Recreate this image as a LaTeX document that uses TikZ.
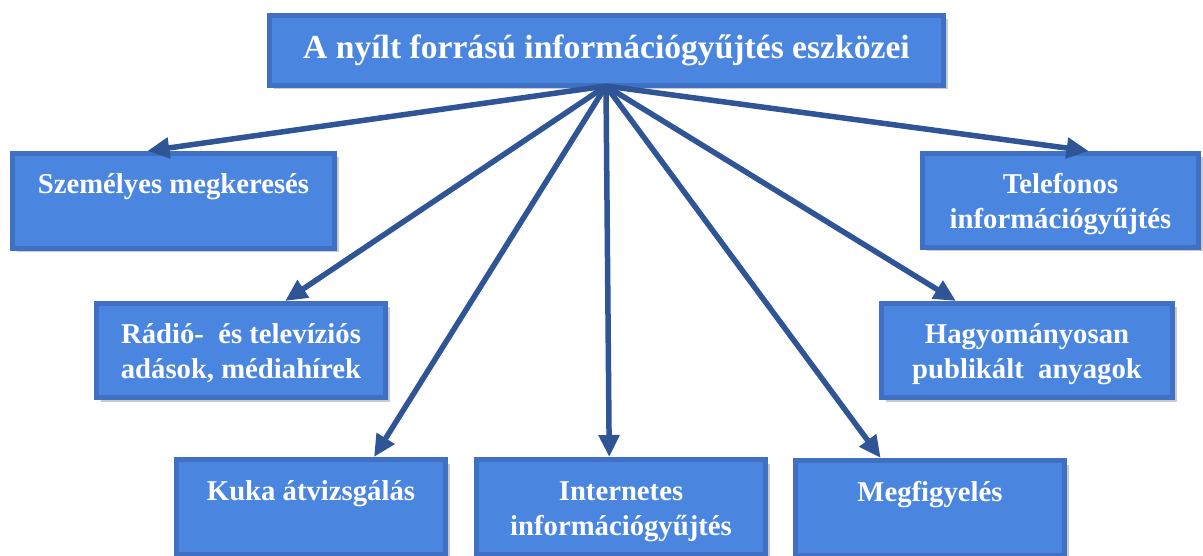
\documentclass[tikz,border=0pt]{standalone}
\usepackage{fontspec}
\setmainfont{Liberation Serif}
\usetikzlibrary{arrows.meta,shadows,calc}
\definecolor{boxfill}{RGB}{74,134,224}
\definecolor{boxline}{RGB}{64,112,196}
\definecolor{arrowcol}{RGB}{47,85,151}
\newcommand\histrut{\rule{0pt}{31.5pt}}
\newcommand\lostrut{\rule[-10.5pt]{0pt}{10.5pt}}
\begin{document}
\begin{tikzpicture}[x=1pt,y=-1pt,
  box/.style={draw=boxline, line width=5pt, fill=boxfill, inner sep=0pt, text=white,
    font=\fontsize{28.7}{35}\selectfont\bfseries, align=center,
    drop shadow={shadow xshift=4pt, shadow yshift=-4pt, fill=black!35, opacity=0.6}},
  conn/.style={draw=arrowcol, line width=5.5pt, -{Triangle[length=22pt,width=20pt]}}]
\useasboundingbox (0,0) rectangle (1203,556);
\node[box, minimum width=674pt, minimum height=70pt, font=\fontsize{33.6}{38}\selectfont\bfseries] (top) at (606.5,50.5) {A nyílt forrású információgyűjtés eszközei};
\node[box, minimum width=322pt, minimum height=95pt] (szem) at (173.5,201) {\histrut Személyes megkeresés\\\lostrut};
\node[box, minimum width=276pt, minimum height=94pt] (tel) at (1060.5,200.5) {\histrut Telefonos\\\lostrut információgyűjtés};
\node[box, minimum width=289pt, minimum height=94pt] (radio) at (241,350.5) {\histrut Rádió-\ \ és televíziós\\\lostrut adások, médiahírek};
\node[box, minimum width=291pt, minimum height=94pt] (hagy) at (1027,350.5) {\histrut Hagyományosan\\\lostrut publikált\ \ anyagok};
\node[box, minimum width=269pt, minimum height=95pt] (kuka) at (311,507) {\histrut Kuka átvizsgálás\\\lostrut};
\node[box, minimum width=289pt, minimum height=95pt] (inter) at (621,507) {\histrut Internetes\\\lostrut információgyűjtés};
\node[box, minimum width=269pt, minimum height=95pt] (megf) at (930,508) {\histrut Megfigyelés\\\lostrut};
\coordinate (src) at (606,86);
\draw[conn] (src) -- ($(szem.north west)!0.42!(szem.north east)$);
\draw[conn] (src) -- ($(tel.north west)!0.60!(tel.north east)$);
\draw[conn] (src) -- ($(radio.north west)!0.65!(radio.north east)$);
\draw[conn] (src) -- ($(hagy.north west)!0.26!(hagy.north east)$);
\draw[conn] (src) -- ($(kuka.north west)!0.73!(kuka.north east)$);
\draw[conn] (src) -- ($(inter.north west)!0.46!(inter.north east)$);
\draw[conn] (src) -- ($(megf.north west)!0.32!(megf.north east)$);
\end{tikzpicture}
\end{document}
